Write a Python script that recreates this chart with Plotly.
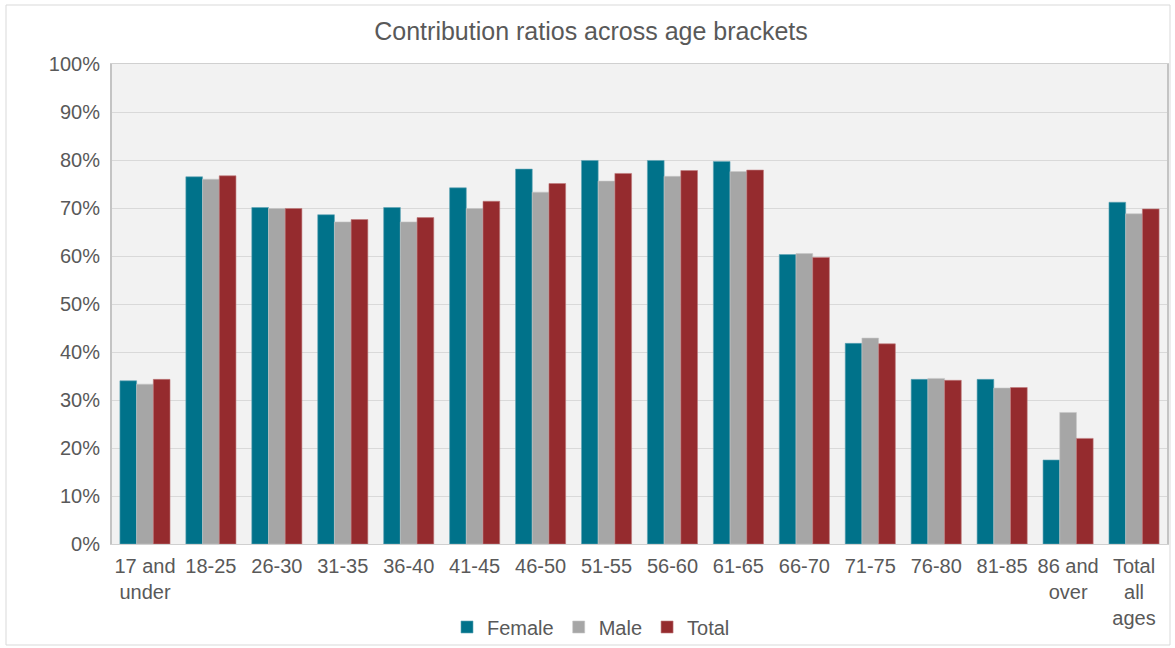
import plotly.graph_objects as go

categories = ["17 and<br>under", "18-25", "26-30", "31-35", "36-40", "41-45", "46-50",
              "51-55", "56-60", "61-65", "66-70", "71-75", "76-80", "81-85",
              "86 and<br>over", "Total<br>all<br>ages"]
female = [34.0, 76.5, 70.1, 68.6, 70.1, 74.2, 78.1, 79.9, 79.9, 79.7, 60.3, 41.8, 34.3, 34.3, 17.5, 71.2]
male = [33.3, 76.0, 69.9, 67.1, 67.1, 69.9, 73.3, 75.6, 76.6, 77.6, 60.5, 42.9, 34.5, 32.5, 27.4, 68.8]
total = [34.3, 76.7, 69.9, 67.6, 68.0, 71.4, 75.1, 77.2, 77.8, 77.9, 59.7, 41.7, 34.1, 32.6, 22.0, 69.8]
tick_vals = [0, 10, 20, 30, 40, 50, 60, 70, 80, 90, 100]
tick_text = [f"{v}%" for v in tick_vals]

series = [("Female", female, "#00728A", "#5FA5B5"),
          ("Male", male, "#A6A6A6", "#C8C8C8"),
          ("Total", total, "#952B2E", "#C07A7C")]

fig = go.Figure()
for name, vals, col, edge in series:
    fig.add_trace(go.Bar(name=name, x=categories, y=vals,
                         marker=dict(color=col, line=dict(color=edge, width=0.6))))

L, R, T, B = 112, 8, 64, 104
W, H = 1175, 648
pw, ph = W - L - R, H - T - B

fig.update_layout(
    width=W, height=H,
    margin=dict(l=L, r=R, t=T, b=B, autoexpand=False),
    paper_bgcolor="white", plot_bgcolor="#F2F2F2",
    font=dict(family="Liberation Sans, Arial, sans-serif", color="#595959", size=20),
    title=dict(text="Contribution ratios across age brackets", x=0.503, xanchor="center",
               y=1 - 31 / H, yanchor="middle", font=dict(size=25, color="#595959")),
    barmode="group", bargap=0.24, bargroupgap=0,
    showlegend=True,
    legend=dict(orientation="h", x=(591 - L) / pw, xanchor="center",
                y=-(627 - (H - B)) / ph, yanchor="middle",
                font=dict(size=20, color="#595959"), bgcolor="rgba(0,0,0,0)",
                itemwidth=30, tracegroupgap=0),
    xaxis=dict(showline=True, linecolor="#D0D0D0", linewidth=1, mirror=True,
               ticks="", tickfont=dict(size=20, color="#595959"), showgrid=False,
               automargin=False, ticklabelstandoff=4),
    yaxis=dict(range=[0, 100], tickvals=tick_vals, ticktext=tick_text,
               showgrid=True, gridcolor="#D9D9D9", gridwidth=1,
               showline=True, linecolor="#C4C4C4", linewidth=2, mirror=True,
               ticks="", tickfont=dict(size=20, color="#595959"), zeroline=False,
               ticklabelstandoff=6, automargin=False),
    shapes=[dict(type="rect", xref="paper", yref="paper",
                 x0=(6 - L) / pw, x1=(1170 - L) / pw,
                 y0=-(645 - (H - B)) / ph, y1=1 + (T - 5) / ph,
                 line=dict(color="#D9D9D9", width=1), fillcolor="rgba(0,0,0,0)", layer="below")],
)

fig.write_html("out.html", config={"displayModeBar": False},
               post_script="document.body.style.margin='0';")
